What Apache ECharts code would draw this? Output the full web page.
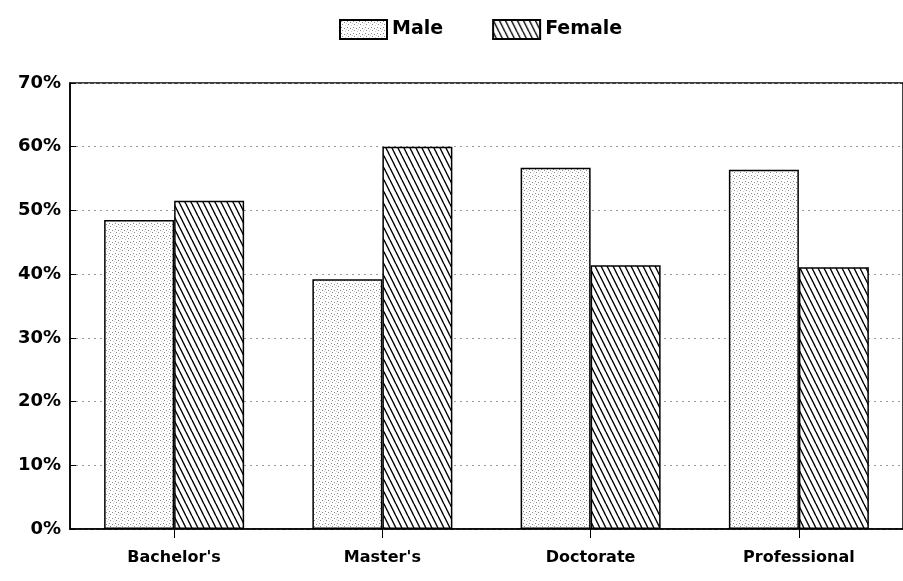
<!DOCTYPE html>
<html lang="en">
<head>
<meta charset="UTF-8">
<title>Degrees by gender</title>
<script src="https://cdn.jsdelivr.net/npm/echarts@6/dist/echarts.min.js"></script>
<style>
  html, body { margin: 0; padding: 0; background: #fff; }
  #chart { width: 903px; height: 581px; }
</style>
</head>
<body>
<div id="chart"></div>
<script type="text/javascript">
var categories = ["Bachelor's", "Master's", "Doctorate", "Professional"];
var male = [48.5, 39.2, 56.7, 56.4];
var female = [51.5, 60.0, 41.4, 41.1];
var yTicks = [0, 10, 20, 30, 40, 50, 60, 70];

// stipple fill for Male
function dotPattern() {
    var c = document.createElement('canvas');
    c.width = 6; c.height = 6;
    var ctx = c.getContext('2d');
    ctx.fillStyle = '#fff';
    ctx.fillRect(0, 0, 6, 6);
    ctx.fillStyle = '#888';
    ctx.fillRect(1, 1, 1, 1);
    ctx.fillRect(4, 2, 1, 1);
    ctx.fillRect(2, 4, 1, 1);
    ctx.fillStyle = '#ccc';
    ctx.fillRect(5, 5, 1, 1);
    ctx.fillRect(0, 3, 1, 1);
    return c;
}

// diagonal hatch for Female
function hatchPattern() {
    var c = document.createElement('canvas');
    c.width = 6; c.height = 12;
    var ctx = c.getContext('2d');
    ctx.fillStyle = '#fff';
    ctx.fillRect(0, 0, 6, 12);
    ctx.strokeStyle = '#000';
    ctx.lineWidth = 1.4;
    for (var x0 = -6; x0 <= 6; x0 += 6) {
        ctx.beginPath();
        ctx.moveTo(x0, 0);
        ctx.lineTo(x0 + 6, 12);
        ctx.stroke();
    }
    return c;
}

var chart = echarts.init(document.getElementById('chart'));
var font = 'DejaVu Sans';

var option = {
    animation: false,
    backgroundColor: '#fff',
    legend: {
        left: 334,
        top: 14,
        itemWidth: 47,
        itemHeight: 19,
        itemGap: 49,
        icon: 'rect',
        textStyle: { fontFamily: font, fontWeight: 'bold', fontSize: 19, color: '#000' },
        data: ['Male', 'Female']
    },
    grid: {
        left: 70,
        top: 83,
        width: 846,
        height: 446,
        show: true,
        borderColor: '#000',
        borderWidth: 1.5,
        backgroundColor: 'transparent'
    },
    xAxis: {
        type: 'category',
        data: categories,
        axisLine: { lineStyle: { color: '#000', width: 1.5 } },
        axisTick: { show: true, alignWithLabel: true, length: 9, lineStyle: { color: '#000' } },
        axisLabel: { margin: 21, fontFamily: font, fontWeight: 'bold', fontSize: 16, color: '#000' }
    },
    yAxis: {
        type: 'value',
        min: yTicks[0],
        max: yTicks[yTicks.length - 1],
        interval: 10,
        axisLine: { show: true, lineStyle: { color: '#000', width: 1.5 } },
        axisTick: { show: true, inside: true, length: 6, lineStyle: { color: '#000' } },
        axisLabel: { margin: 9, formatter: '{value}%', fontFamily: font, fontWeight: 'bold', fontSize: 18, color: '#000' },
        splitLine: { show: true, lineStyle: { color: '#999', width: 1, type: [2, 4] } }
    },
    series: [
        {
            name: 'Male',
            type: 'bar',
            barWidth: 70,
            barGap: '0%',
            data: male,
            itemStyle: { color: { image: dotPattern(), repeat: 'repeat' }, borderColor: '#000', borderWidth: 1.5 }
        },
        {
            name: 'Female',
            type: 'bar',
            barWidth: 70,
            data: female,
            itemStyle: { color: { image: hatchPattern(), repeat: 'repeat' }, borderColor: '#000', borderWidth: 1.5 }
        }
    ]
};
chart.setOption(option);
</script>
</body>
</html>
